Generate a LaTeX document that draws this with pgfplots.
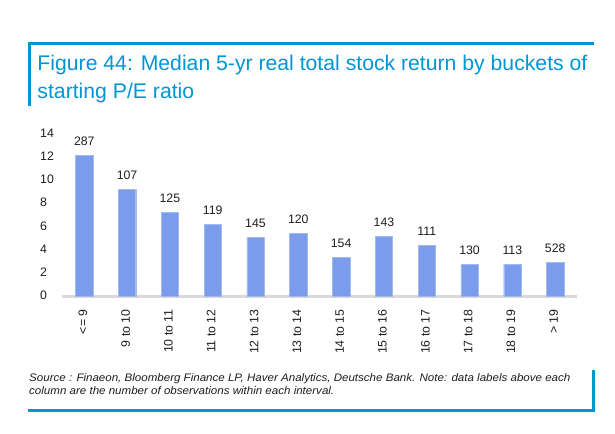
\documentclass[border=0pt]{standalone}
\usepackage{pgfplots}
\pgfplotsset{compat=1.18}
\usepackage{fontspec}
\setmainfont{Liberation Sans}
\newfontfamily\titlefont[FakeStretch=1.0]{Liberation Sans}
\newfontfamily\srcfont[FakeStretch=1.06]{Liberation Sans}
\definecolor{dbblue}{RGB}{0,150,214}
\definecolor{barblue}{RGB}{123,155,235}
\definecolor{axgray}{RGB}{217,217,217}
\definecolor{txt}{RGB}{30,30,30}
\begin{document}
\begin{tikzpicture}[x=1bp,y=1bp]
\useasboundingbox[fill=white] (0,0) rectangle (615,-434);
% frame lines
\draw[dbblue,line width=3bp] (28,-43.5) -- (593.5,-43.5);
\draw[dbblue,line width=3bp] (29,-42) -- (29,-106);
\draw[dbblue,line width=3bp] (28,-410) -- (595,-410);
\draw[dbblue,line width=3bp] (593.8,-370) -- (593.8,-411.5);
% title
\node[anchor=base west,inner sep=0,text=dbblue,font=\titlefont\fontsize{21.2bp}{24bp}\selectfont] at (37.3,-70.7) {Figure 44: Median 5-yr real total stock return by buckets of};
\node[anchor=base west,inner sep=0,text=dbblue,font=\titlefont\fontsize{21.2bp}{24bp}\selectfont] at (37.3,-98.3) {starting P/E ratio};
% source
\node[anchor=base west,inner sep=0,text=txt,font=\srcfont\itshape\fontsize{10.9bp}{12bp}\selectfont] at (29,-381.7) {Source : Finaeon, Bloomberg Finance LP, Haver Analytics, Deutsche Bank. Note: data labels above each};
\node[anchor=base west,inner sep=0,text=txt,font=\srcfont\itshape\fontsize{10.9bp}{12bp}\selectfont] at (29,-394.5) {column are the number of observations within each interval.};
\begin{axis}[
  at={(62bp,-296.5bp)}, anchor=south west,
  scale only axis, width=515bp, height=161.7bp,
  xmin=-0.52, xmax=11.51, ymin=0, ymax=14,
  axis x line*=bottom, axis y line*=left,
  x axis line style={draw=axgray,line width=2.3bp,-},
  y axis line style={draw=none},
  tick style={draw=none},
  ytick={0,2,...,14},
  xtick={0,...,11},
  xticklabels={{<= 9},{9 to 10},{10 to 11},{11 to 12},{12 to 13},{13 to 14},{14 to 15},{15 to 16},{16 to 17},{17 to 18},{18 to 19},{> 19}},
  xticklabel style={rotate=90,anchor=east,inner sep=0,font=\fontsize{12.3bp}{14bp}\selectfont,text=txt},
  yticklabel style={anchor=west,inner sep=0,xshift=-22bp,font=\fontsize{12.3bp}{14bp}\selectfont,text=txt},
  /pgf/number format/assume math mode=true,
  typeset ticklabels with strut=false,
  xticklabel shift=8.5bp,
  clip=false,
  ybar, bar width=17.3bp, bar shift=0pt,
  nodes near coords,
  point meta=explicit symbolic,
  every node near coord/.append style={anchor=south,inner sep=0,yshift=9.5bp,font=\fontsize{12.3bp}{14bp}\selectfont,text=txt},
]
\addplot[fill=barblue,draw=barblue!70!white,line width=0.4bp] table[meta=n] {
x y n
0 12.25 287
1 9.3 107
2 7.3 125
3 6.25 119
4 5.1 145
5 5.45 120
6 3.4 154
7 5.2 143
8 4.4 111
9 2.8 130
10 2.8 113
11 2.95 528
};
\end{axis}
\end{tikzpicture}
\end{document}
